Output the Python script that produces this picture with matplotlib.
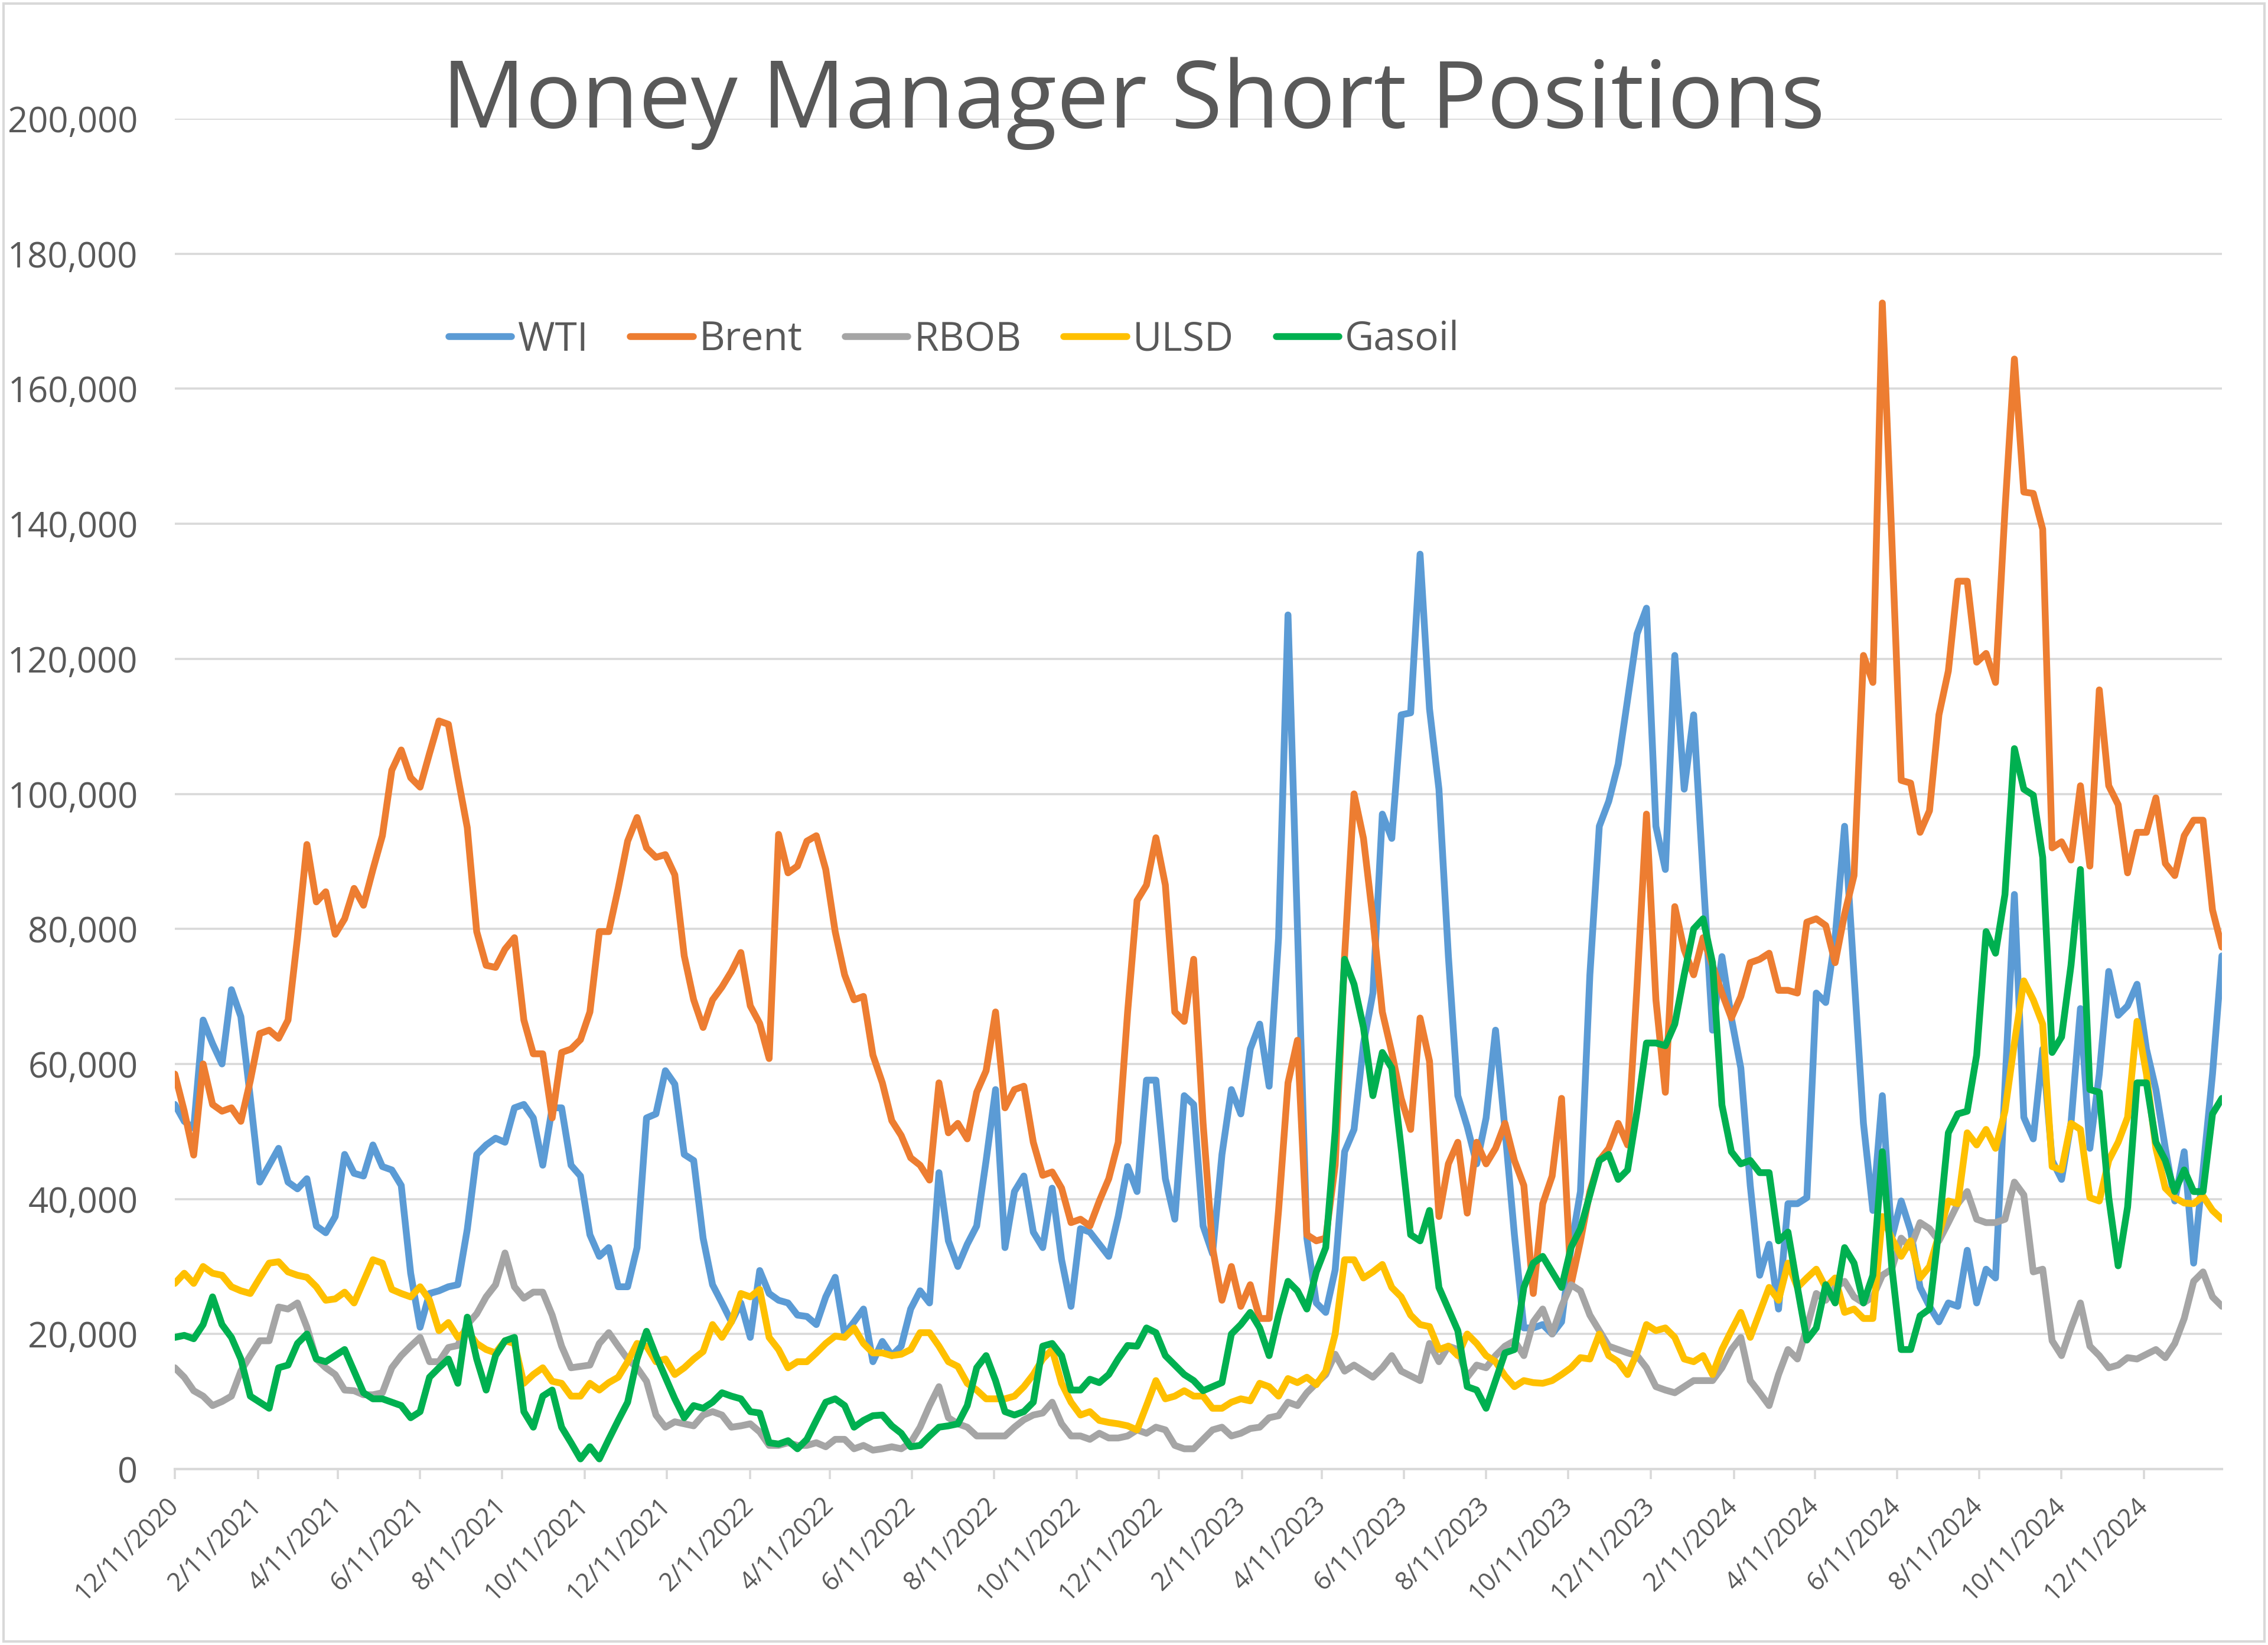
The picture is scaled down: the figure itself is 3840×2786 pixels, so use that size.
import matplotlib
matplotlib.use("Agg")
import matplotlib.pyplot as plt
import pandas as pd
import numpy as np
from matplotlib.patches import Rectangle
from matplotlib.ticker import FuncFormatter, MultipleLocator

plt.rcParams['font.family'] = ['Open Sans', 'DejaVu Sans']

# ---------------- data (thousands of contracts), weekly from 12/11/2020 ----------------
start_date = "2020-12-11"
n_weeks = 218

wti = [
    54.0, 51.5, 50.5, 66.5, 63.0, 60.0, 71.0, 67.0, 55.0, 42.5,
    45.0, 47.5, 42.5, 41.5, 43.0, 36.0, 35.0, 37.4, 46.6, 43.8,
    43.4, 48.0, 44.8, 44.3, 42.0, 29.0, 21.0, 26.0, 26.4, 27.0,
    27.3, 35.5, 46.6, 48.0, 49.0, 48.4, 53.5, 54.0, 52.0, 45.0,
    53.5, 53.5, 45.0, 43.4, 34.7, 31.5, 32.8, 27.0, 27.0, 32.8,
    52.0, 52.6, 59.0, 57.0, 46.6, 45.7, 34.2, 27.3, 24.6, 21.8,
    24.6, 19.5, 29.4, 26.0, 25.0, 24.6, 22.8, 22.6, 21.4, 25.5,
    28.4, 20.0, 21.8, 23.7, 15.9, 18.9, 16.8, 18.2, 23.7, 26.4,
    24.6, 43.9, 33.8, 30.0, 33.3, 36.0, 45.7, 56.2, 32.8, 41.1,
    43.4, 35.1, 32.8, 41.6, 31.0, 24.1, 35.6, 35.1, 33.3, 31.5,
    37.4, 44.8, 41.1, 57.6, 57.6, 43.0, 37.0, 55.3, 54.0, 36.0,
    31.9, 46.6, 56.2, 52.6, 62.2, 65.9, 56.7, 78.7, 126.5, 80.5,
    34.2, 24.6, 23.2, 29.5, 47.0, 50.3, 63.0, 70.5, 97.0, 93.4,
    111.7, 112.0, 135.5, 112.6, 100.7, 76.0, 55.3, 50.7, 45.2, 52.0,
    65.0, 50.3, 34.7, 20.9, 20.9, 21.4, 20.0, 21.8, 32.8, 41.1,
    73.2, 95.2, 98.9, 104.4, 114.0, 123.7, 127.5, 95.2, 88.8, 120.5,
    100.7, 111.7, 88.0, 65.0, 75.9, 66.8, 59.4, 42.0, 28.7, 33.3,
    23.7, 39.3, 39.3, 40.2, 70.5, 69.1, 78.7, 95.2, 73.2, 51.2,
    38.3, 55.3, 34.2, 39.7, 35.3, 26.9, 24.1, 21.8, 24.6, 24.1,
    32.4, 24.6, 29.6, 28.3, 56.7, 85.1, 52.1, 48.9, 62.2, 45.7,
    42.9, 51.2, 68.2, 47.5, 58.5, 73.7, 67.2, 68.6, 71.8, 62.2,
    56.2, 47.5, 39.7, 47.0, 30.5, 44.3, 58.5, 76.0,
]

brent = [
    58.5, 53.0, 46.5, 60.0, 54.0, 53.0, 53.5, 51.5, 57.5, 64.5,
    65.0, 63.8, 66.5, 78.7, 92.5, 84.0, 85.5, 79.2, 81.5, 86.0,
    83.5, 88.8, 93.8, 103.5, 106.5, 102.4, 101.0, 106.0, 110.8, 110.3,
    102.5, 95.0, 79.6, 74.6, 74.3, 77.0, 78.7, 66.5, 61.5, 61.5,
    52.0, 61.7, 62.2, 63.6, 67.7, 79.6, 79.6, 86.0, 93.0, 96.5,
    92.0, 90.6, 91.0, 88.0, 76.0, 69.5, 65.4, 69.5, 71.4, 73.7,
    76.5, 68.6, 66.0, 60.8, 94.0, 88.3, 89.3, 93.0, 93.8, 88.8,
    79.6, 73.2, 69.5, 70.0, 61.3, 57.2, 51.6, 49.4, 46.1, 45.0,
    42.8, 57.2, 49.8, 51.2, 48.9, 55.8, 59.0, 67.7, 53.5, 56.2,
    56.7, 48.4, 43.5, 44.0, 41.6, 36.5, 37.0, 36.0, 39.7, 43.0,
    48.4, 67.7, 84.2, 86.5, 93.5, 86.5, 67.7, 66.3, 75.5, 51.2,
    32.8, 25.0, 30.0, 24.1, 27.3, 22.3, 22.3, 38.3, 57.2, 63.5,
    34.7, 33.8, 34.2, 45.0, 76.0, 100.0, 93.4, 81.5, 67.7, 61.7,
    54.9, 50.3, 66.8, 60.4, 37.4, 45.2, 48.4, 37.9, 48.4, 45.2,
    47.5, 51.2, 45.7, 42.0, 26.0, 39.3, 43.4, 54.9, 27.3, 33.8,
    41.1, 45.7, 47.5, 51.2, 48.0, 71.6, 97.0, 69.5, 55.8, 83.3,
    76.9, 73.2, 78.7, 74.6, 70.5, 66.8, 70.0, 75.0, 75.5, 76.4,
    70.9, 70.9, 70.5, 81.0, 81.5, 80.5, 75.0, 82.2, 87.9, 120.5,
    116.5, 172.7, 138.0, 102.0, 101.6, 94.3, 97.5, 111.7, 118.2, 131.5,
    131.5, 119.5, 120.8, 116.5, 142.0, 164.4, 144.7, 144.5, 139.2, 92.0,
    92.9, 90.2, 101.2, 89.3, 115.4, 101.2, 98.4, 88.3, 94.3, 94.3,
    99.4, 89.7, 87.9, 93.8, 96.1, 96.1, 82.8, 77.3,
]

rbob = [
    15.0, 13.6, 11.6, 10.8, 9.4, 10.0, 10.8, 14.5, 16.8, 19.0,
    19.0, 24.0, 23.7, 24.6, 21.0, 16.3, 15.0, 14.0, 11.7, 11.6,
    11.0, 11.0, 11.3, 15.0, 16.8, 18.2, 19.5, 15.9, 15.9, 18.0,
    18.3, 21.4, 23.0, 25.5, 27.3, 32.0, 27.0, 25.3, 26.2, 26.2,
    22.8, 18.2, 15.0, 15.2, 15.4, 18.6, 20.2, 18.2, 16.3, 15.0,
    13.0, 8.0, 6.2, 7.0, 6.7, 6.4, 8.0, 8.5, 8.0, 6.2,
    6.4, 6.7, 5.5, 3.5, 3.5, 3.9, 3.5, 3.5, 3.9, 3.3,
    4.4, 4.4, 3.0, 3.5, 2.8, 3.0, 3.3, 3.0, 3.9, 6.2,
    9.4, 12.2, 7.6, 6.7, 6.2, 4.9, 4.9, 4.9, 4.9, 6.2,
    7.3, 8.0, 8.3, 9.9, 6.7, 4.9, 4.9, 4.4, 5.3, 4.6,
    4.6, 4.9, 5.8, 5.3, 6.2, 5.8, 3.5, 3.0, 3.0, 4.4,
    5.8, 6.2, 4.9, 5.3, 6.0, 6.2, 7.6, 7.9, 9.9, 9.4,
    11.3, 12.7, 14.0, 17.0, 14.5, 15.4, 14.5, 13.6, 15.0, 16.8,
    14.5, 13.8, 13.1, 18.6, 15.9, 18.2, 17.7, 13.6, 15.4, 15.0,
    16.8, 18.2, 19.0, 16.8, 21.8, 23.7, 20.0, 24.1, 27.3, 26.4,
    22.8, 20.5, 18.2, 17.7, 17.2, 16.8, 15.0, 12.2, 11.7, 11.3,
    12.2, 13.1, 13.1, 13.1, 15.0, 17.7, 19.5, 13.1, 11.3, 9.4,
    14.0, 17.7, 16.3, 20.9, 26.0, 25.0, 26.9, 27.8, 25.5, 24.6,
    25.5, 28.7, 29.6, 34.2, 32.8, 36.5, 35.6, 33.8, 36.5, 39.3,
    41.1, 37.0, 36.5, 36.5, 37.0, 42.5, 40.6, 29.2, 29.6, 19.0,
    16.8, 20.9, 24.6, 18.2, 16.8, 15.0, 15.4, 16.5, 16.3, 17.0,
    17.7, 16.5, 18.6, 22.3, 27.8, 29.2, 25.5, 24.1,
]

ulsd = [
    27.5, 29.0, 27.5, 30.0, 29.0, 28.7, 27.0, 26.4, 26.0, 28.3,
    30.5, 30.7, 29.2, 28.7, 28.4, 27.0, 25.0, 25.2, 26.2, 24.6,
    27.8, 31.0, 30.5, 26.6, 26.0, 25.5, 27.0, 25.0, 20.5, 21.7,
    19.5, 20.5, 18.6, 17.7, 17.2, 19.0, 18.6, 12.7, 14.0, 15.0,
    13.0, 12.7, 10.8, 10.8, 12.7, 11.7, 12.8, 13.6, 15.9, 18.6,
    18.2, 15.9, 16.3, 14.0, 15.0, 16.3, 17.4, 21.4, 19.5, 21.8,
    26.0, 25.5, 26.6, 19.5, 17.7, 15.0, 15.9, 15.9, 17.2, 18.6,
    19.7, 19.5, 20.9, 18.6, 17.2, 17.2, 16.8, 17.0, 17.7, 20.2,
    20.2, 18.2, 15.9, 15.2, 12.7, 11.7, 10.4, 10.4, 10.4, 10.8,
    12.2, 14.0, 16.3, 17.7, 12.7, 9.9, 8.0, 8.5, 7.2, 6.9,
    6.7, 6.4, 5.8, 9.4, 13.1, 10.4, 10.8, 11.6, 10.8, 10.8,
    9.0, 9.0, 9.9, 10.4, 10.1, 12.7, 12.2, 10.8, 13.4, 12.8,
    13.6, 12.5, 14.5, 20.0, 31.0, 31.0, 28.3, 29.2, 30.3, 26.9,
    25.5, 22.8, 21.4, 21.1, 17.7, 18.2, 16.8, 20.0, 18.6, 16.8,
    15.9, 13.8, 12.2, 13.1, 12.8, 12.7, 13.1, 14.0, 15.0, 16.5,
    16.3, 20.0, 16.8, 15.9, 14.0, 17.2, 21.4, 20.5, 20.9, 19.5,
    16.3, 15.9, 16.8, 14.0, 17.7, 20.5, 23.2, 19.5, 23.2, 26.9,
    25.0, 30.5, 26.9, 28.3, 29.6, 26.9, 28.3, 23.2, 23.7, 22.3,
    22.3, 37.4, 34.2, 31.5, 33.8, 28.3, 30.0, 34.7, 39.7, 39.3,
    49.8, 48.0, 50.3, 47.5, 53.0, 63.1, 72.3, 69.5, 65.9, 44.8,
    44.3, 51.2, 50.3, 40.2, 39.7, 45.7, 48.4, 52.1, 66.3, 58.5,
    47.5, 41.6, 40.2, 39.4, 39.3, 40.4, 38.3, 37.0,
]

gasoil = [
    19.5, 19.8, 19.3, 21.4, 25.5, 21.4, 19.5, 16.3, 10.8, 9.9,
    9.0, 15.0, 15.4, 18.6, 20.0, 16.3, 15.9, 16.8, 17.7, 14.5,
    11.3, 10.4, 10.4, 9.9, 9.4, 7.6, 8.5, 13.6, 15.0, 16.3,
    12.7, 22.5, 16.3, 11.7, 16.8, 19.0, 19.5, 8.5, 6.2, 10.8,
    11.7, 6.2, 3.9, 1.5, 3.3, 1.5, 4.4, 7.2, 9.9, 16.3,
    20.4, 16.8, 13.6, 10.4, 7.6, 9.4, 9.0, 9.9, 11.3, 10.8,
    10.4, 8.5, 8.3, 3.9, 3.7, 4.2, 3.0, 4.4, 7.2, 9.9,
    10.4, 9.4, 6.2, 7.2, 7.9, 8.0, 6.4, 5.3, 3.3, 3.5,
    4.9, 6.2, 6.4, 6.7, 9.4, 15.0, 16.8, 13.1, 8.5, 8.0,
    8.5, 9.9, 18.2, 18.6, 16.8, 11.7, 11.7, 13.3, 12.8, 14.0,
    16.3, 18.3, 18.2, 20.9, 20.2, 16.8, 15.4, 14.0, 13.1, 11.6,
    12.2, 12.8, 20.0, 21.4, 23.2, 20.9, 16.8, 22.8, 27.8, 26.4,
    23.7, 29.2, 32.8, 50.0, 75.5, 71.8, 65.4, 55.3, 61.7, 59.4,
    47.5, 34.7, 33.8, 38.3, 26.9, 23.7, 20.5, 12.2, 11.7, 9.0,
    13.1, 17.2, 17.7, 26.9, 30.5, 31.5, 29.2, 26.9, 32.8, 35.6,
    40.6, 45.7, 46.6, 42.9, 44.3, 53.0, 63.1, 63.1, 62.7, 65.9,
    73.2, 80.0, 81.5, 75.0, 53.9, 47.0, 45.2, 45.7, 43.9, 43.9,
    33.8, 35.1, 26.9, 19.1, 20.9, 27.3, 24.6, 32.8, 30.5, 24.6,
    28.7, 47.0, 30.0, 17.7, 17.7, 22.7, 23.7, 35.6, 49.8, 52.6,
    53.0, 61.3, 79.6, 76.4, 85.1, 106.7, 100.7, 99.8, 90.6, 61.7,
    64.0, 74.6, 88.8, 56.2, 55.8, 40.2, 30.1, 38.8, 57.2, 57.2,
    48.4, 45.7, 41.1, 44.3, 41.1, 41.1, 52.6, 54.9,
]

series_names = ["WTI", "Brent", "RBOB", "ULSD", "Gasoil"]
series_colors = ["#5B9BD5", "#ED7D31", "#A5A5A5", "#FFC000", "#00B050"]
series_values = [wti, brent, rbob, ulsd, gasoil]

title_text = "Money Manager Short Positions"
first_tick = pd.Timestamp(2020, 12, 11)
n_ticks = 25

# ---------------- figure ----------------
W, H = 3840, 2786
fig = plt.figure(figsize=(W / 100, H / 100), dpi=100)
fig.patch.set_facecolor("white")

ax = fig.add_axes([296 / W, 1 - 2488 / H, (3762 - 296) / W, (2488 - 201) / H])

dates = pd.date_range(start_date, periods=n_weeks, freq="7D")
for name, vals, col in zip(series_names, series_values, series_colors):
    ax.plot(dates, np.asarray(vals) * 1000.0, color=col, lw=8.3, label=name,
            solid_joinstyle="round", solid_capstyle="round")

ax.set_xlim(dates[0], dates[-1])
ax.set_ylim(0, 200000)
ax.yaxis.set_major_locator(MultipleLocator(20000))
ax.yaxis.set_major_formatter(FuncFormatter(lambda v, p: f"{v:,.0f}"))
ax.grid(axis="y", color="#D9D9D9", lw=2.6)
ax.set_axisbelow(True)
for s in ["top", "right", "left"]:
    ax.spines[s].set_visible(False)
ax.spines["bottom"].set_color("#D9D9D9")
ax.spines["bottom"].set_linewidth(3)

tick_dates = [first_tick + pd.DateOffset(months=2 * k) for k in range(n_ticks)]
ax.set_xticks(tick_dates)
ax.set_xticklabels([f"{d.month}/{d.day}/{d.year}" for d in tick_dates],
                   rotation=45, ha="right", va="center", rotation_mode="anchor",
                   fontsize=31, color="#595959")
ax.tick_params(axis="x", length=12, width=2.6, color="#D9D9D9", pad=28)
ax.tick_params(axis="y", length=0, pad=45, labelsize=43, labelcolor="#595959")

fig.text(0.4997, 1 - 216 / H, title_text, ha="center", va="baseline",
         fontsize=113.5, color="#595959")

leg = ax.legend(loc="center left", bbox_to_anchor=(760 / W, 1 - 576 / H),
                bbox_transform=fig.transFigure, ncol=5, frameon=False,
                fontsize=48.8, handlelength=1.57, handletextpad=0.15,
                columnspacing=1.06, borderpad=0, borderaxespad=0)
for t in leg.get_texts():
    t.set_color("#595959")

fig.patches.append(Rectangle((0.0015, 0.002), 0.997, 0.996, transform=fig.transFigure,
                             fill=False, edgecolor="#D9D9D9", lw=3))

fig.savefig("out.png", dpi=100, facecolor="white")
